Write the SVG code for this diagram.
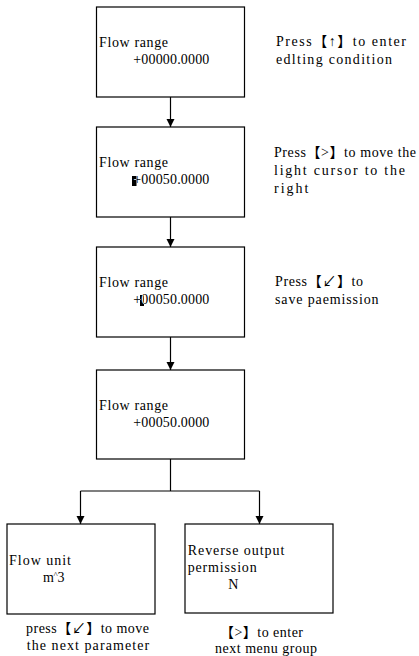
<svg xmlns="http://www.w3.org/2000/svg" width="419" height="656" viewBox="0 0 419 656">
<style>
text{font-family:"Liberation Serif","Noto Sans CJK SC",serif;font-size:14px;fill:#000}
.box{fill:#fff;stroke:#000;stroke-width:1.2}
.ln{fill:none;stroke:#000;stroke-width:1.2}
.w{fill:#fff}
</style>
<defs>
<marker id="ah" viewBox="0 0 8 10" refX="8" refY="5" markerWidth="8" markerHeight="10" markerUnits="userSpaceOnUse" orient="auto">
<path d="M0,1 L8,5 L0,9 Z" fill="#000"/>
</marker>
<clipPath id="c1"><rect x="132" y="176" width="4.5" height="10"/></clipPath>
<clipPath id="c2"><rect x="140" y="295" width="4" height="11"/></clipPath>
</defs>
<g id="connectors">
<line class="ln" x1="170.5" y1="97" x2="170.5" y2="127" marker-end="url(#ah)"/>
<line class="ln" x1="170.5" y1="217" x2="170.5" y2="247" marker-end="url(#ah)"/>
<line class="ln" x1="170.5" y1="337" x2="170.5" y2="370" marker-end="url(#ah)"/>
<polyline class="ln" points="170.5,459 170.5,491"/>
<polyline class="ln" points="80.5,491 259.5,491"/>
<line class="ln" x1="80.5" y1="491" x2="80.5" y2="524" marker-end="url(#ah)"/>
<line class="ln" x1="259.5" y1="491" x2="259.5" y2="524" marker-end="url(#ah)"/>
</g>
<g id="node1">
<rect class="box" x="96.5" y="7" width="148" height="90"/>
<text x="99" y="47" textLength="69">Flow range</text>
<text x="133.3" y="64" textLength="76">+00000.0000</text>
</g>
<g id="note1">
<text x="276" y="46" textLength="130">Press【↑】to enter</text>
<text x="276" y="64" textLength="116">edlting condition</text>
</g>
<g id="node2">
<rect class="box" x="96.5" y="127" width="148" height="90"/>
<text x="99" y="167" textLength="69">Flow range</text>
<text x="133.3" y="184" textLength="76">+00050.0000</text>
<rect x="132" y="176" width="4.5" height="10" fill="#000"/>
<text class="w" clip-path="url(#c1)" x="133.3" y="184" textLength="76">+00050.0000</text>
</g>
<g id="note2">
<text x="274" y="157" textLength="142">Press【&gt;】to move the</text>
<text x="274" y="175" textLength="131">light cursor to the</text>
<text x="274" y="193" textLength="34.5">right</text>
</g>
<g id="node3">
<rect class="box" x="96.5" y="247" width="148" height="90"/>
<text x="99" y="287" textLength="69">Flow range</text>
<text x="133.3" y="304" textLength="76">+00050.0000</text>
<rect x="140" y="295" width="4" height="11" fill="#000"/>
<text class="w" clip-path="url(#c2)" x="133.3" y="304" textLength="76">+00050.0000</text>
</g>
<g id="note3">
<text x="275" y="286" textLength="88">Press【↙】to</text>
<text x="275" y="304" textLength="103.5">save paemission</text>
</g>
<g id="node4">
<rect class="box" x="96.5" y="370" width="148" height="89"/>
<text x="99" y="410" textLength="69">Flow range</text>
<text x="133.3" y="427" textLength="76">+00050.0000</text>
</g>
<g id="node5">
<rect class="box" x="7" y="524" width="148" height="90"/>
<text x="9" y="565" textLength="62">Flow unit</text>
<text x="43" y="582">m<tspan x="53.5" y="578" style="font-size:9px">^</tspan><tspan x="57.5" y="582">3</tspan></text>
</g>
<g id="note5">
<text x="26" y="633" textLength="123">press【↙】to move</text>
<text x="26.7" y="650" textLength="122.4">the next parameter</text>
</g>
<g id="node6">
<rect class="box" x="185" y="524" width="148" height="89"/>
<text x="187.7" y="555" textLength="96.6">Reverse output</text>
<text x="187.7" y="572" textLength="69">permission</text>
<text x="228.3" y="589">N</text>
</g>
<g id="note6">
<text x="220" y="637" textLength="83">【&gt;】to enter</text>
<text x="215" y="653" textLength="102">next menu group</text>
</g>
</svg>
